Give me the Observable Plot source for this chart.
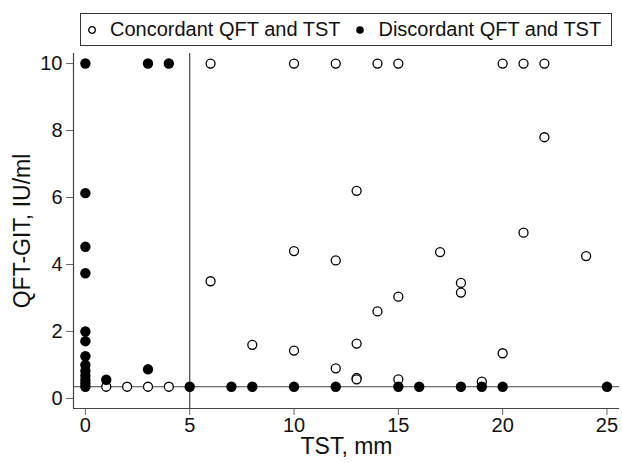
<!DOCTYPE html>
<html>
<head>
<meta charset="utf-8">
<script src="https://cdn.jsdelivr.net/npm/d3@7"></script>
<script src="https://cdn.jsdelivr.net/npm/@observablehq/plot@0.6"></script>
<style>
  html, body { margin: 0; padding: 0; background: #fff; }
  body { width: 622px; height: 463px; overflow: hidden; font-family: "Liberation Sans", Arial, sans-serif; }
  #legendWrap { position: relative; width: 622px; height: 50px; }
  #legend { position: absolute; left: 80px; top: 13px; width: 530px; height: 31px; border: 1px solid #333;
            display: flex; align-items: center; font-size: 20px; color: #111; white-space: nowrap; }
  #legend .item { display: flex; align-items: center; flex-shrink: 0; }
  #legend svg { display: block; flex-shrink: 0; }
</style>
</head>
<body>
<div id="legendWrap"><div id="legend"></div></div>
<div id="chart"></div>
<script>
// Concordant QFT and TST (open circles)
const concTST = [1, 2, 3, 4, 6, 10, 12, 14, 15, 20, 21, 22, 22, 13, 21, 10, 17, 24, 12, 6, 18, 18, 15, 14, 8, 13, 10, 20, 12, 13, 13, 15, 19];
const concQFT = [0.35, 0.35, 0.35, 0.35, 10, 10, 10, 10, 10, 10, 10, 10, 7.8, 6.2, 4.95, 4.4, 4.37, 4.25, 4.12, 3.5, 3.45, 3.16, 3.04, 2.6, 1.6, 1.64, 1.43, 1.35, 0.9, 0.61, 0.57, 0.57, 0.5];
// Discordant QFT and TST (filled circles)
const discTST = [0, 3, 4, 0, 0, 0, 0, 0, 0, 0, 0, 0, 0, 0, 0, 1, 3, 5, 7, 8, 10, 12, 15, 16, 18, 19, 20, 25];
const discQFT = [10, 10, 10, 6.13, 4.53, 3.74, 2.0, 1.71, 1.26, 1.0, 0.82, 0.68, 0.55, 0.45, 0.35, 0.56, 0.87, 0.35, 0.35, 0.35, 0.35, 0.35, 0.35, 0.35, 0.35, 0.35, 0.35, 0.35];
// Cut-offs
const tstCutoff = [5];
const qftCutoff = [0.35];
// Ticks and labels
const xTicks = [0, 5, 10, 15, 20, 25];
const yTicks = [0, 2, 4, 6, 8, 10];
const xTitle = "TST, mm";
const yTitle = "QFT-GIT, IU/ml";
const seriesNames = ["Concordant QFT and TST", "Discordant QFT and TST"];
const xDomain = [-0.57, 25.6];
const yDomain = [-0.3, 10.3];

const conc = concTST.map((x, i) => ({x, y: concQFT[i]}));
const disc = discTST.map((x, i) => ({x, y: discQFT[i]}));

const font = '"Liberation Sans", Arial, sans-serif';
const lineColor = "#444";

const chart = Plot.plot({
  width: 622,
  height: 413,
  marginLeft: 73,
  marginRight: 3,
  marginTop: 3,
  marginBottom: 55,
  style: {fontFamily: font, fontSize: "20px", color: "#111", background: "#fff"},
  x: {domain: xDomain},
  y: {domain: yDomain},
  marks: [
    Plot.axisX({ticks: xTicks, tickSize: 7, tickPadding: 2, label: null, stroke: "#666", fill: "#111", tickFormat: d => String(d)}),
    Plot.axisY({ticks: yTicks, tickSize: 7, tickPadding: 4, label: null, stroke: "#666", fill: "#111", tickFormat: d => String(d)}),
    Plot.ruleX([xDomain[0]], {stroke: lineColor, strokeWidth: 1.2}),
    Plot.ruleY([yDomain[0]], {stroke: lineColor, strokeWidth: 1.2}),
    Plot.ruleX(tstCutoff, {stroke: lineColor, strokeWidth: 1.2}),
    Plot.ruleY(qftCutoff, {stroke: lineColor, strokeWidth: 1.2}),
    Plot.dot(conc, {x: "x", y: "y", r: 4.5, stroke: "#000", strokeWidth: 1.3, fill: "#fff"}),
    Plot.dot(disc, {x: "x", y: "y", r: 5.2, fill: "#000", stroke: "none"}),
    Plot.text([xTitle], {frameAnchor: "bottom", dy: 38, fontSize: 23, fill: "#111", lineAnchor: "middle", textAnchor: "middle"}),
    Plot.text([yTitle], {frameAnchor: "left", dx: -51, rotate: -90, fontSize: 23, fill: "#111", lineAnchor: "middle", textAnchor: "middle"})
  ]
});
document.getElementById("chart").appendChild(chart);

// Legend
const legend = document.getElementById("legend");
const symbols = [
  '<svg width="10" height="10"><circle cx="5" cy="5" r="3.3" fill="#fff" stroke="#000" stroke-width="1.3"/></svg>',
  '<svg width="10" height="10"><circle cx="5" cy="5" r="3.8" fill="#000"/></svg>'
];
seriesNames.forEach((name, i) => {
  const item = document.createElement("div");
  item.className = "item";
  item.style.marginLeft = i === 0 ? "6px" : "15px";
  item.innerHTML = symbols[i] + '<span style="margin-left:13px">' + name + '</span>';
  legend.appendChild(item);
});
</script>
</body>
</html>
